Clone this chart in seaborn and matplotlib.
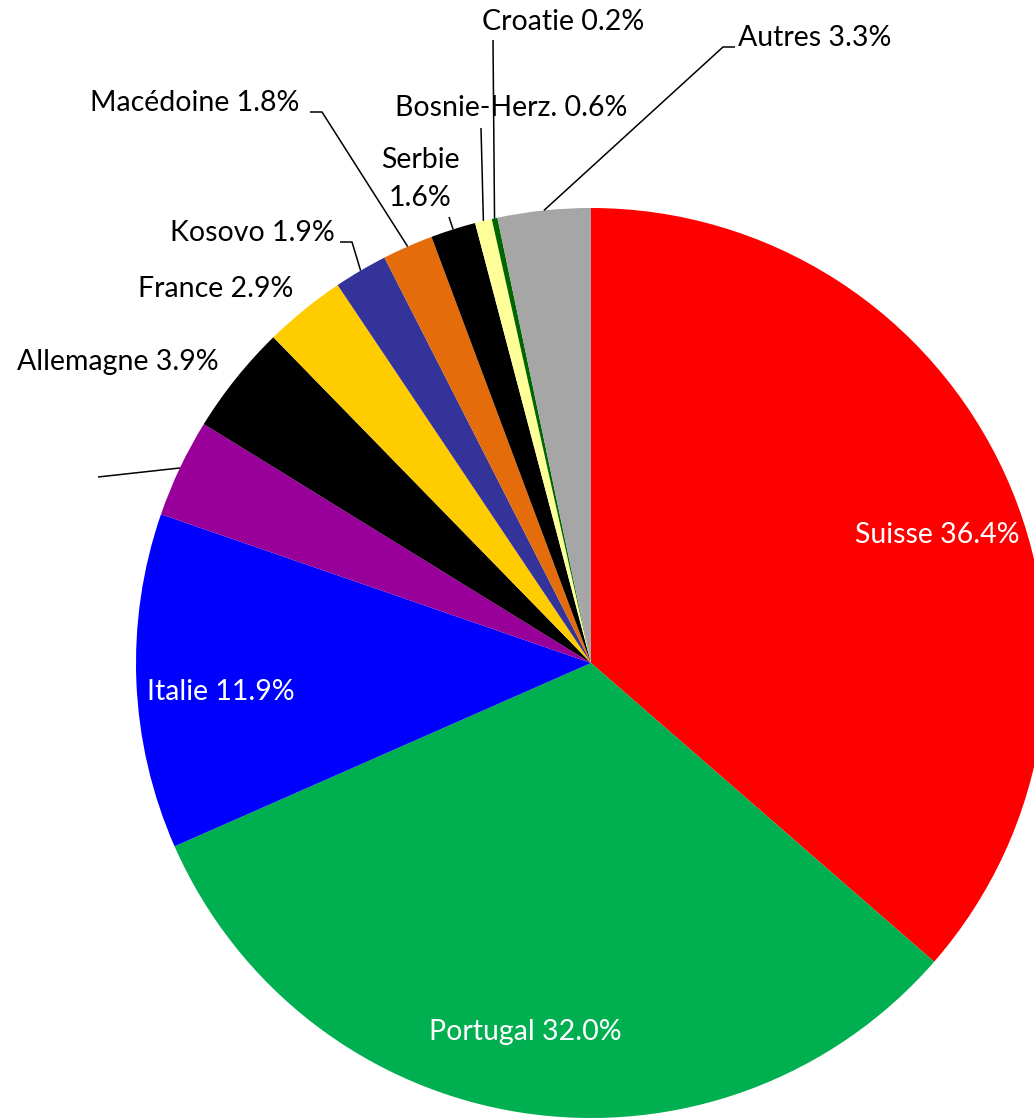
import numpy as np
import seaborn as sns
import matplotlib.pyplot as plt

# pie data, clockwise from 12 o'clock
pays = ["Suisse", "Portugal", "Italie", "", "Allemagne", "France", "Kosovo",
        "Macédoine", "Serbie", "Bosnie-Herz.", "Croatie", "Autres"]
parts = [36.4, 32.0, 11.9, 3.5, 3.9, 2.9, 1.9, 1.8, 1.6, 0.6, 0.2, 3.3]
couleurs = ["#FF0000", "#00B050", "#0000FF", "#990099", "#000000", "#FFCC00",
            "#333399", "#E46C0A", "#000000", "#FFFF99", "#006600", "#A6A6A6"]

W, H = 1034, 1118
CX, CY, R = 591, 663, 455   # pie centre / radius in picture pixels (y down)

sns.set_theme(style="white")
plt.rcParams["font.family"] = ["Lato", "DejaVu Sans"]
FS = 20.5

fig = plt.figure(figsize=(W / 100, H / 100), dpi=100)
ax = fig.add_axes([0, 0, 1, 1])
ax.pie(parts, colors=couleurs, startangle=90, counterclock=False,
       center=(CX, H - CY), radius=R, wedgeprops=dict(linewidth=0))
ax.set_xlim(0, W)
ax.set_ylim(0, H)
ax.set_aspect("equal")
ax.set_axis_off()


def py(y):
    return H - y


def anchor(i):
    # point on the rim at the middle of wedge i
    frac = (sum(parts[:i]) + parts[i] / 2) / sum(parts)
    a = np.deg2rad(frac * 360)
    return CX + R * np.sin(a), CY - R * np.cos(a)


def txt(i, x, y, ha="left", color="black", s=None):
    if s is None:
        s = f"{pays[i]} {parts[i]:.1f}%"
    ax.text(x, py(y), s, ha=ha, va="center", fontsize=FS, color=color)


def leader(i, pts):
    ax_, ay_ = anchor(i)
    xs = [p[0] for p in pts] + [ax_]
    ys = [py(p[1]) for p in pts] + [py(ay_)]
    ax.plot(xs, ys, color="black", lw=1.1, solid_capstyle="butt")


# labels inside the big slices
txt(0, 937, 535, ha="center", color="white")
txt(1, 525, 1032, ha="center", color="white")
txt(2, 221, 692, ha="center", color="white")

# outside labels
txt(4, 17, 362)
txt(5, 138, 289)
txt(6, 170, 233)
txt(7, 90, 103)
txt(8, 420, 160, ha="center", s=pays[8])
txt(8, 420, 198, ha="center", s=f"{parts[8]:.1f}%")
txt(9, 395, 108)
txt(10, 482, 22)
txt(11, 738, 38)

leader(3, [(98, 477)])
leader(6, [(340, 242), (352, 242)])
leader(7, [(310, 112), (322, 112)])
leader(8, [(449, 217)])
leader(9, [(481, 128)])
leader(10, [(493, 40)])
leader(11, [(735, 47), (723, 47)])

fig.savefig("out.png", dpi=100)
